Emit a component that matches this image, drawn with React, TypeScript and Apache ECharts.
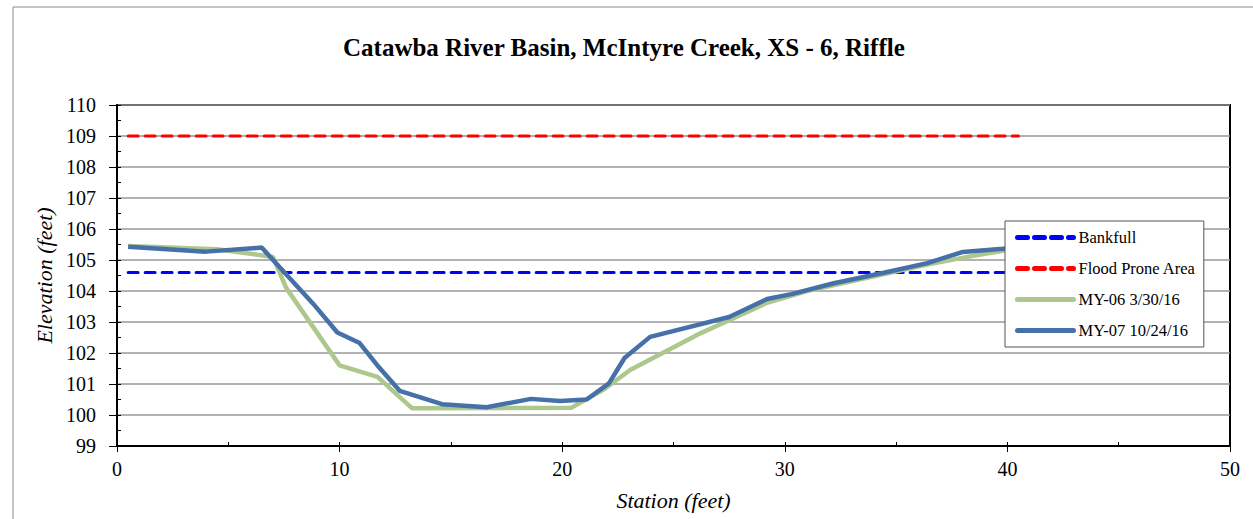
import React, { useEffect, useRef } from "react";
import * as echarts from "echarts";

const xTicks = [0, 10, 20, 30, 40, 50];
const yTicks = [99, 100, 101, 102, 103, 104, 105, 106, 107, 108, 109, 110];

const bankfull: [number, number][] = [
  [0.5, 104.6],
  [40.5, 104.6],
];
const floodProne: [number, number][] = [
  [0.5, 109.0],
  [40.5, 109.0],
];
const my06: [number, number][] = [
  [0.5, 105.45], [4.5, 105.35], [7.0, 105.1], [7.6, 104.1], [10.0, 101.6],
  [11.7, 101.23], [13.25, 100.22], [20.4, 100.23], [21.9, 100.84], [23.05, 101.45],
  [26.1, 102.6], [27.7, 103.12], [29.2, 103.62], [31.0, 104.0], [36.4, 104.85],
  [38.2, 105.1], [39.8, 105.3], [40.5, 105.38],
];
const my07: [number, number][] = [
  [0.5, 105.43], [4.0, 105.27], [6.5, 105.4], [8.8, 103.6], [9.9, 102.66],
  [10.9, 102.32], [11.7, 101.6], [12.7, 100.78], [14.6, 100.35], [16.6, 100.25],
  [18.6, 100.52], [19.9, 100.45], [21.1, 100.5], [22.1, 101.02], [22.8, 101.84],
  [23.95, 102.52], [27.5, 103.16], [29.2, 103.74], [30.3, 103.9], [32.2, 104.25],
  [34.4, 104.58], [36.4, 104.9], [38.0, 105.26], [39.8, 105.36], [40.5, 105.42],
];

const FONT = "'Liberation Serif', 'Times New Roman', serif";

export default function App() {
  const ref = useRef<HTMLDivElement>(null);
  useEffect(() => {
    if (!ref.current) return;
    const chart = echarts.init(ref.current, undefined, { renderer: "svg" });
    chart.setOption({
      animation: false,
      backgroundColor: "#fff",
      textStyle: { fontFamily: FONT },
      title: {
        text: "Catawba River Basin, McIntyre Creek, XS - 6, Riffle",
        left: 338,
        top: 30,
        textStyle: { fontFamily: FONT, fontWeight: "bold", fontSize: 25, color: "#000" },
      },
      graphic: [
        {
          type: "rect",
          shape: { x: 13, y: 7, width: 1400, height: 700 },
          style: { fill: "none", stroke: "#8a8a8a", lineWidth: 1 },
          silent: true,
          z: -10,
        },
      ],
      grid: {
        left: 117,
        right: 23,
        top: 105,
        bottom: 73,
        show: true,
        borderColor: "#000",
        borderWidth: 2,
        backgroundColor: "transparent",
      },
      legend: {
        orient: "vertical",
        left: 1005,
        top: 221,
        padding: [8, 8, 8, 10],
        itemWidth: 56,
        itemHeight: 14,
        itemGap: 14,
        backgroundColor: "#fff",
        borderColor: "#555",
        borderWidth: 1,
        itemStyle: { opacity: 0 },
        lineStyle: { width: 5, cap: "round" },
        textStyle: { fontFamily: FONT, fontSize: 16.5, color: "#000" },
        data: ["Bankfull", "Flood Prone Area", "MY-06 3/30/16", "MY-07 10/24/16"],
      },
      xAxis: [
        {
          type: "value",
          min: 0,
          max: 50,
          interval: 10,
          name: "Station (feet)",
          nameLocation: "middle",
          nameGap: 43,
          nameTextStyle: { fontFamily: FONT, fontStyle: "italic", fontSize: 22, color: "#000" },
          axisLine: { show: true, lineStyle: { color: "#000", width: 2 } },
          axisTick: { show: true, length: 6, lineStyle: { color: "#000", width: 1 } },
          axisLabel: { fontFamily: FONT, fontSize: 20, color: "#000", margin: 13 },
          splitLine: { show: false },
          data: xTicks,
        },
        {
          type: "value",
          min: 0,
          max: 50,
          interval: 5,
          position: "bottom",
          axisLine: { show: false },
          axisTick: { show: true, inside: true, length: 4, lineStyle: { color: "#000", width: 1 } },
          axisLabel: { show: false },
          splitLine: { show: false },
        },
      ],
      yAxis: [
        {
          type: "value",
          min: 99,
          max: 110,
          interval: 1,
          name: "Elevation (feet)",
          nameLocation: "middle",
          nameGap: 61,
          nameTextStyle: { fontFamily: FONT, fontStyle: "italic", fontSize: 22, color: "#000" },
          axisLine: { show: true, lineStyle: { color: "#000", width: 2 } },
          axisTick: { show: true, length: 8, lineStyle: { color: "#000", width: 1 } },
          axisLabel: { fontFamily: FONT, fontSize: 20, color: "#000", margin: 21 },
          splitLine: { show: true, lineStyle: { color: "#999", width: 1.5 } },
          data: yTicks,
        },
        {
          type: "value",
          min: 99,
          max: 110,
          interval: 0.5,
          position: "left",
          axisLine: { show: false },
          axisTick: { show: true, inside: true, length: 4, lineStyle: { color: "#000", width: 1 } },
          axisLabel: { show: false },
          splitLine: { show: false },
        },
      ],
      series: [
        {
          name: "Bankfull",
          type: "line",
          data: bankfull,
          symbol: "none",
          lineStyle: { color: "#0000ff", width: 3, type: [10, 7], cap: "round" },
          itemStyle: { color: "#0000ff" },
        },
        {
          name: "Flood Prone Area",
          type: "line",
          data: floodProne,
          symbol: "none",
          lineStyle: { color: "#ff0000", width: 3, type: [10, 7], cap: "round" },
          itemStyle: { color: "#ff0000" },
        },
        {
          name: "MY-06 3/30/16",
          type: "line",
          data: my06,
          symbol: "none",
          lineStyle: { color: "#adc78d", width: 4.5 },
          itemStyle: { color: "#adc78d" },
        },
        {
          name: "MY-07 10/24/16",
          type: "line",
          data: my07,
          symbol: "none",
          lineStyle: { color: "#4671a8", width: 4.5 },
          itemStyle: { color: "#4671a8" },
        },
      ],
    });
    return () => chart.dispose();
  }, []);
  return (
    <div
      ref={ref}
      style={{ position: "fixed", left: 0, top: 0, width: 1253, height: 519 }}
    />
  );
}
